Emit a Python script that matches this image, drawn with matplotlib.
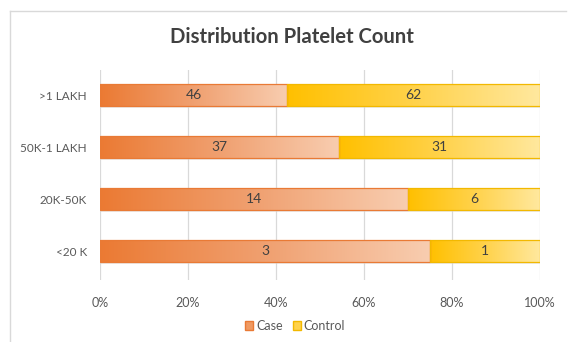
import numpy as np
import matplotlib.pyplot as plt
from matplotlib.colors import LinearSegmentedColormap
from matplotlib.patches import Rectangle
from matplotlib.lines import Line2D

categories = ["<20 K", "20K-50K", "50K-1 LAKH", ">1 LAKH"]
case = [3, 14, 37, 46]
control = [1, 6, 31, 62]
xticks = [0, 20, 40, 60, 80, 100]

plt.rcParams['font.family'] = ['Lato', 'DejaVu Sans']

case = np.array(case, dtype=float)
control = np.array(control, dtype=float)
total = case + control
case_pct = case / total * 100
control_pct = control / total * 100

fig = plt.figure(figsize=(5.69, 3.42), dpi=100)
ax = fig.add_axes([100 / 569, 1 - 280 / 342, 440 / 569, 210 / 342])

y = np.arange(len(categories))
h = 0.42
case_bars = ax.barh(y, case_pct, height=h, color='none', edgecolor='#E97A35', linewidth=0.9, zorder=3)
ctrl_bars = ax.barh(y, control_pct, left=case_pct, height=h, color='none', edgecolor='#F2B800',
                    linewidth=0.9, zorder=3)

cmap_case = LinearSegmentedColormap.from_list('case', ['#EB7A33', '#F0A070', '#F8CDB0'])
cmap_ctrl = LinearSegmentedColormap.from_list('ctrl', ['#FFC000', '#FFD24A', '#FFE89E'])
grad = np.linspace(0, 1, 256).reshape(1, -1)

for bars, cmap in [(case_bars, cmap_case), (ctrl_bars, cmap_ctrl)]:
    for b in bars:
        x0, y0, w, hh = b.get_x(), b.get_y(), b.get_width(), b.get_height()
        # soft shadow
        ax.add_patch(Rectangle((x0 + 0.3, y0 - 0.04), w, hh, color='#000000', alpha=0.08,
                               linewidth=0, zorder=1))
        im = ax.imshow(grad, cmap=cmap, aspect='auto', extent=(x0, x0 + w, y0, y0 + hh),
                       zorder=2, interpolation='bicubic')
        im.set_clip_path(b)

for i in range(len(categories)):
    ax.text(case_pct[i] / 2, y[i], f"{int(case[i])}", ha='center', va='center',
            fontsize=10, color='#404040', zorder=4)
    ax.text(case_pct[i] + control_pct[i] / 2, y[i], f"{int(control[i])}", ha='center',
            va='center', fontsize=10, color='#404040', zorder=4)

ax.set_xlim(0, 100)
ax.set_ylim(-0.55, 3.48)
ax.set_yticks(y)
ax.set_yticklabels(categories, fontsize=8.5, color='#595959')
ax.set_xticks(xticks)
ax.set_xticklabels([f"{t}%" for t in xticks], fontsize=9, color='#595959')
ax.tick_params(length=0, pad=12)
ax.tick_params(axis='y', pad=9.5)
ax.grid(axis='x', color='#D9D9D9', linewidth=0.9, zorder=0)
for s in ax.spines.values():
    s.set_visible(False)

fig.text(292 / 569, 1 - 37 / 342, "Distribution Platelet Count", ha='center', va='center',
         fontsize=14.6, fontweight='bold', color='#404040')

handles = [Rectangle((0, 0), 1, 1, facecolor='#F09A62', edgecolor='#E97A35'),
           Rectangle((0, 0), 1, 1, facecolor='#FFD24A', edgecolor='#F2B800')]
fig.legend(handles, ["Case", "Control"], loc='center', bbox_to_anchor=(295 / 569, 1 - 326 / 342),
           ncol=2, frameon=False, fontsize=9, labelcolor='#595959', handlelength=0.7,
           handleheight=0.7, handletextpad=0.2, columnspacing=0.8)

# chart frame
fig.add_artist(Line2D([10 / 569, 10 / 569], [0, 1 - 11 / 342], color='#D9D9D9', linewidth=1))
fig.add_artist(Line2D([10 / 569, 566 / 569], [1 - 11 / 342, 1 - 11 / 342], color='#D9D9D9', linewidth=1))

fig.savefig('out.png', dpi=100)
